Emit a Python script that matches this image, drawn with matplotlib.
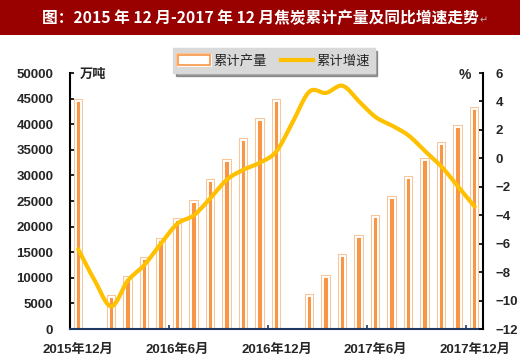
import numpy as np
import matplotlib
matplotlib.use('Agg')
import matplotlib.pyplot as plt
from matplotlib import patheffects as pe
from matplotlib.patches import Rectangle, Patch
from matplotlib.lines import Line2D

plt.rcParams['font.family'] = ['Liberation Sans', 'Noto Sans CJK SC', 'DejaVu Sans']

# ---------------- data ----------------
months = ['2015年12月', '2016年1月', '2016年2月', '2016年3月', '2016年4月', '2016年5月',
          '2016年6月', '2016年7月', '2016年8月', '2016年9月', '2016年10月', '2016年11月',
          '2016年12月', '2017年1月', '2017年2月', '2017年3月', '2017年4月', '2017年5月',
          '2017年6月', '2017年7月', '2017年8月', '2017年9月', '2017年10月', '2017年11月',
          '2017年12月']
output = [44600, None, 6200, 10000, 13600, 17400, 21300, 24800, 28900, 32800, 36900, 40800,
          44600, None, 6400, 10200, 14200, 18000, 21900, 25600, 29500, 33000, 36100, 39400,
          43000]
growth = [-6.4, -8.6, -10.4, -8.6, -7.5, -6.0, -4.6, -4.0, -2.8, -1.5, -0.8, -0.3,
          0.5, 2.6, 4.7, 4.6, 5.1, 4.0, 2.9, 2.3, 1.6, 0.5, -0.6, -2.0, -3.4]
label_idx = [0, 6, 12, 18, 24]
left_ticks = list(range(0, 50001, 5000))
right_ticks = list(range(-12, 7, 2))

ORANGE = '#F79646'
PEACH = '#FBC59C'
GOLD = '#FFC000'
TXT = '#262626'


def catmull_rom(xs, ys, n=20):
    xs = np.asarray(xs, float)
    ys = np.asarray(ys, float)
    px = np.concatenate([[2 * xs[0] - xs[1]], xs, [2 * xs[-1] - xs[-2]]])
    py = np.concatenate([[2 * ys[0] - ys[1]], ys, [2 * ys[-1] - ys[-2]]])
    ox, oy = [], []
    t = np.linspace(0, 1, n, endpoint=False)
    for i in range(1, len(px) - 2):
        for P, O in ((px, ox), (py, oy)):
            p0, p1, p2, p3 = P[i - 1], P[i], P[i + 1], P[i + 2]
            O.extend(0.5 * ((2 * p1) + (-p0 + p2) * t + (2 * p0 - 5 * p1 + 4 * p2 - p3) * t ** 2
                            + (-p0 + 3 * p1 - 3 * p2 + p3) * t ** 3))
    ox.append(xs[-1])
    oy.append(ys[-1])
    return np.array(ox), np.array(oy)


fig = plt.figure(figsize=(5.2, 3.61), dpi=100)
# title bar
fig.patches.append(Rectangle((0, 1 - 35 / 361), 1, 35 / 361, transform=fig.transFigure,
                             facecolor='#990000', edgecolor='none', zorder=0))
t = fig.text(42 / 520, 1 - 18 / 361, '图：2015 年 12 月-2017 年 12 月焦炭累计产量及同比增速走势',
             color='white', fontsize=11.3, fontweight='bold', ha='left', va='center',
             family=['Noto Sans CJK SC', 'DejaVu Sans'])
fig.canvas.draw()
bb = t.get_window_extent()
fig.text(bb.x1 / 520 + 0.002, 1 - 20 / 361, '↵', color='#BBBBBB', fontsize=7,
         ha='left', va='center', family=['DejaVu Sans'])

ax = fig.add_axes([70 / 520, 1 - 329 / 361, 413 / 520, 256 / 361])
ax2 = ax.twinx()

x = np.arange(len(months))
bx = [i for i, v in zip(x, output) if v is not None]
bv = [v for v in output if v is not None]
bars = ax.bar(bx, bv, width=0.33, facecolor=ORANGE, edgecolor='white', linewidth=1.4, zorder=2)
for b in bars:
    b.set_path_effects([pe.Stroke(linewidth=2.9, foreground=PEACH), pe.Normal()])

sx, sy = catmull_rom(x, growth)
ax2.plot(sx, sy, color=GOLD, lw=3.0, solid_capstyle='round', zorder=3)

ax.set_xlim(-0.5, len(months) - 0.5)
ax.set_ylim(0, 50000)
ax2.set_ylim(-12, 6)
ax.set_yticks(left_ticks)
ax2.set_yticks(right_ticks)

ax.set_xticks([5.5, 11.5, 17.5, 23.5])
ax.set_xticklabels([])
ax.set_xticks(label_idx, [months[i] for i in label_idx], minor=True)
ax.tick_params(axis='x', which='major', direction='in', length=3, width=1.2, color='#1F3864')
ax.tick_params(axis='x', which='minor', length=0, pad=11, labelsize=9.5, labelcolor=TXT)
ax.tick_params(axis='y', direction='in', length=3, width=1.2, color='black', pad=12,
               labelsize=9.5, labelcolor=TXT)
ax2.tick_params(axis='y', direction='in', length=3, width=1.2, color='black', pad=9,
                labelsize=9.5, labelcolor=TXT)
for lab in ax.get_xticklabels(minor=True) + ax.get_yticklabels() + ax2.get_yticklabels():
    lab.set_fontweight('bold')

for a in (ax, ax2):
    a.spines['top'].set_visible(False)
    a.patch.set_visible(False)
ax.spines['right'].set_visible(False)
ax2.spines['left'].set_visible(False)
ax2.spines['bottom'].set_visible(False)
ax.spines['left'].set_linewidth(1.5)
ax.spines['left'].set_color('black')
ax2.spines['right'].set_linewidth(1.5)
ax2.spines['right'].set_color('black')
ax.spines['bottom'].set_linewidth(1.5)
ax.spines['bottom'].set_color('#1F3864')

fig.text(80 / 520, 1 - 75 / 361, '万吨', fontsize=9.5, fontweight='bold', color=TXT,
         ha='left', va='center')
fig.text(471 / 520, 1 - 75 / 361, '%', fontsize=10, fontweight='bold', color=TXT,
         ha='right', va='center')

h1 = Patch(facecolor='white', edgecolor=ORANGE, linewidth=1.2, label='累计产量')
h1.set_path_effects([pe.Stroke(linewidth=3.0, foreground=PEACH),
                     pe.Stroke(linewidth=2.0, foreground='white'), pe.Normal()])
h2 = Line2D([], [], color=GOLD, lw=3, label='累计增速')
leg = ax.legend(handles=[h1, h2], ncol=2, loc='lower left',
                bbox_to_anchor=(173 / 520, 1 - 73 / 361), bbox_transform=fig.transFigure,
                borderaxespad=0, frameon=True, fancybox=False, shadow=True,
                prop={'family': ['Noto Sans CJK SC'], 'size': 9.6}, handlelength=2.4,
                handleheight=0.8, handletextpad=0.2, columnspacing=1.1, borderpad=0.4)
leg.get_frame().set_facecolor('#D9D9D9')
leg.get_frame().set_edgecolor('#D9D9D9')
leg.get_frame().set_alpha(1)
for txt in leg.get_texts():
    txt.set_color(TXT)

fig.savefig('out.png', dpi=100)
